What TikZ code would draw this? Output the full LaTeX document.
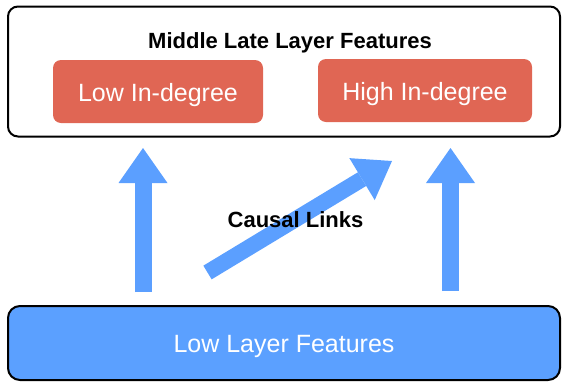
\documentclass[tikz,border=0pt]{standalone}
\usepackage{fontspec}
\setmainfont{Liberation Sans}
\usetikzlibrary{arrows.meta}
\definecolor{boxblue}{RGB}{91,160,255}
\definecolor{arrowblue}{RGB}{91,159,255}
\definecolor{boxred}{RGB}{224,102,84}
\begin{document}
\begin{tikzpicture}[x=1pt,y=-1pt,
  framebox/.style={draw=black, line width=2pt, rounded corners=10pt, inner sep=0pt},
  redbox/.style={fill=boxred, rounded corners=8pt, text=white,
    font=\fontsize{25}{30}\selectfont, text height=20pt, text depth=0pt, inner sep=0pt},
  boldtext/.style={font=\bfseries\fontsize{22}{26}\selectfont, anchor=base, inner sep=0pt},
  bigarrow/.style={draw=arrowblue, line width=17pt,
    -{Triangle[width=49pt,length=35pt,line width=0pt]}}
]
\useasboundingbox (0,0) rectangle (562,381);

% top frame
\node[framebox, minimum width=552pt, minimum height=130pt] (top) at (284,71.5) {};
\node[boldtext] (title) at (290,48) {Middle Late Layer Features};
\node[redbox, minimum width=210pt, minimum height=63pt] (low) at (158,91.5) {Low In-degree};
\node[redbox, minimum width=214pt, minimum height=63pt] (high) at (425,90.5) {High In-degree};

% bottom box
\node[framebox, fill=boxblue, rounded corners=12pt, minimum width=552pt, minimum height=74pt,
  text=white, font=\fontsize{25}{30}\selectfont, text height=18pt, text depth=0pt]
  (bottom) at (284,343) {Low Layer Features};

% arrows
\coordinate (l0) at (143,292);
\coordinate (l1) at (143,148);
\coordinate (r0) at (450.5,291);
\coordinate (r1) at (450.5,148);
\coordinate (d0) at (207.5,272.5);
\coordinate (d1) at (392,161);
\draw[bigarrow] (l0) -- (l1);
\draw[bigarrow] (r0) -- (r1);
\draw[bigarrow, line width=16pt] (d0) -- (d1);

\node[boldtext] (causal) at (295.5,227) {Causal Links};
\end{tikzpicture}
\end{document}
